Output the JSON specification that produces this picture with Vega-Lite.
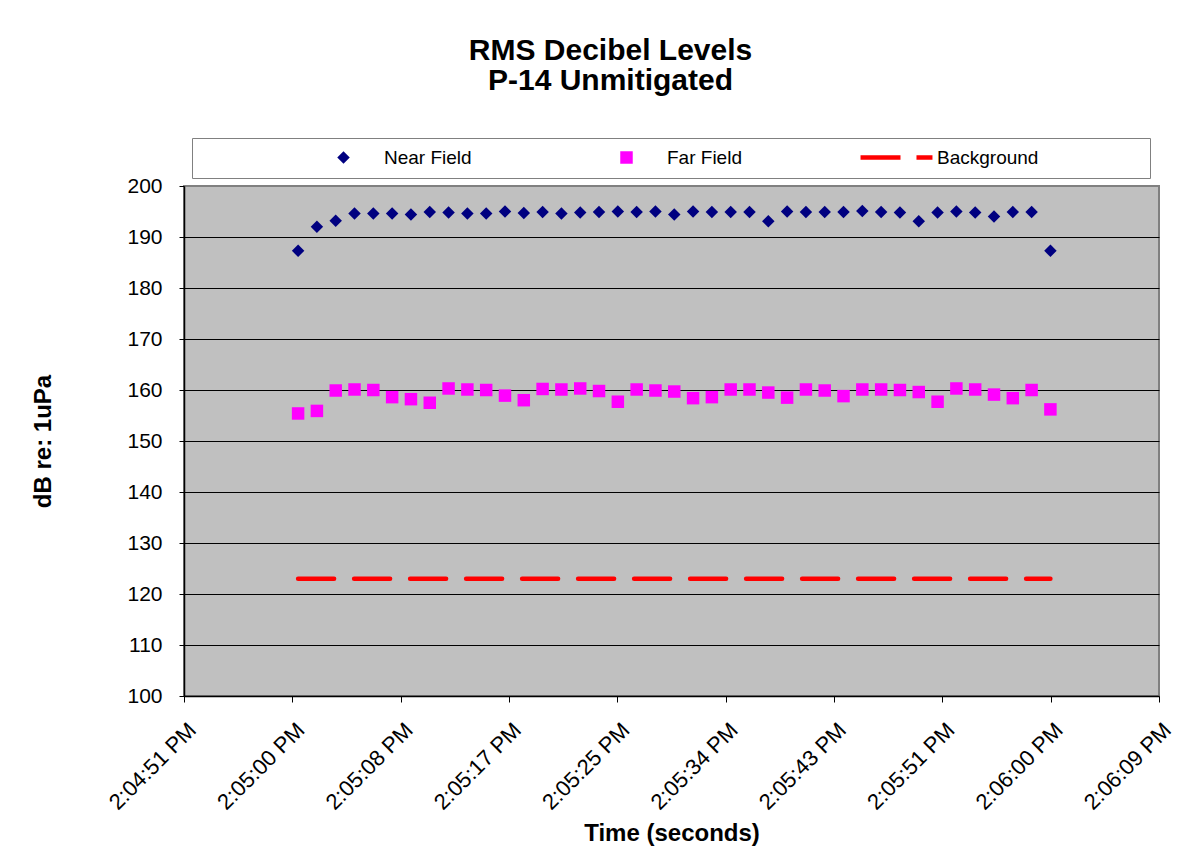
{
  "$schema": "https://vega.github.io/schema/vega-lite/v6.json",
  "width": 975,
  "height": 510,
  "autosize": "none",
  "padding": {"left": 184, "top": 186, "right": 40, "bottom": 169},
  "background": "white",
  "config": {
    "font": "Liberation Sans",
    "view": {"fill": "#C0C0C0", "stroke": "#808080", "strokeWidth": 2}
  },
  "title": {
    "text": ["RMS Decibel Levels", "P-14 Unmitigated"],
    "fontSize": 30,
    "fontWeight": "bold",
    "font": "Liberation Sans",
    "color": "black",
    "lineHeight": 30,
    "anchor": "middle",
    "dx": -61,
    "offset": 42
  },
  "data": {
    "values": [
      {"time": "2000-01-01T14:05:00.500Z", "Near Field": 187.3, "Far Field": 155.4, "Background": 123},
      {"time": "2000-01-01T14:05:02.000Z", "Near Field": 192.0, "Far Field": 155.9, "Background": 123},
      {"time": "2000-01-01T14:05:03.500Z", "Near Field": 193.2, "Far Field": 159.9, "Background": 123},
      {"time": "2000-01-01T14:05:05.000Z", "Near Field": 194.6, "Far Field": 160.1, "Background": 123},
      {"time": "2000-01-01T14:05:06.500Z", "Near Field": 194.6, "Far Field": 160.0, "Background": 123},
      {"time": "2000-01-01T14:05:08.000Z", "Near Field": 194.6, "Far Field": 158.6, "Background": 123},
      {"time": "2000-01-01T14:05:09.500Z", "Near Field": 194.4, "Far Field": 158.2, "Background": 123},
      {"time": "2000-01-01T14:05:11.000Z", "Near Field": 194.9, "Far Field": 157.5, "Background": 123},
      {"time": "2000-01-01T14:05:12.500Z", "Near Field": 194.8, "Far Field": 160.3, "Background": 123},
      {"time": "2000-01-01T14:05:14.000Z", "Near Field": 194.6, "Far Field": 160.1, "Background": 123},
      {"time": "2000-01-01T14:05:15.500Z", "Near Field": 194.6, "Far Field": 160.0, "Background": 123},
      {"time": "2000-01-01T14:05:17.000Z", "Near Field": 195.0, "Far Field": 158.9, "Background": 123},
      {"time": "2000-01-01T14:05:18.500Z", "Near Field": 194.7, "Far Field": 158.0, "Background": 123},
      {"time": "2000-01-01T14:05:20.000Z", "Near Field": 194.9, "Far Field": 160.2, "Background": 123},
      {"time": "2000-01-01T14:05:21.500Z", "Near Field": 194.6, "Far Field": 160.1, "Background": 123},
      {"time": "2000-01-01T14:05:23.000Z", "Near Field": 194.8, "Far Field": 160.3, "Background": 123},
      {"time": "2000-01-01T14:05:24.500Z", "Near Field": 194.9, "Far Field": 159.8, "Background": 123},
      {"time": "2000-01-01T14:05:26.000Z", "Near Field": 195.0, "Far Field": 157.7, "Background": 123},
      {"time": "2000-01-01T14:05:27.500Z", "Near Field": 194.9, "Far Field": 160.1, "Background": 123},
      {"time": "2000-01-01T14:05:29.000Z", "Near Field": 195.0, "Far Field": 159.9, "Background": 123},
      {"time": "2000-01-01T14:05:30.500Z", "Near Field": 194.4, "Far Field": 159.7, "Background": 123},
      {"time": "2000-01-01T14:05:32.000Z", "Near Field": 195.0, "Far Field": 158.4, "Background": 123},
      {"time": "2000-01-01T14:05:33.500Z", "Near Field": 194.9, "Far Field": 158.6, "Background": 123},
      {"time": "2000-01-01T14:05:35.000Z", "Near Field": 194.9, "Far Field": 160.1, "Background": 123},
      {"time": "2000-01-01T14:05:36.500Z", "Near Field": 194.9, "Far Field": 160.1, "Background": 123},
      {"time": "2000-01-01T14:05:38.000Z", "Near Field": 193.1, "Far Field": 159.5, "Background": 123},
      {"time": "2000-01-01T14:05:39.500Z", "Near Field": 195.0, "Far Field": 158.5, "Background": 123},
      {"time": "2000-01-01T14:05:41.000Z", "Near Field": 194.9, "Far Field": 160.1, "Background": 123},
      {"time": "2000-01-01T14:05:42.500Z", "Near Field": 194.9, "Far Field": 159.9, "Background": 123},
      {"time": "2000-01-01T14:05:44.000Z", "Near Field": 194.9, "Far Field": 158.8, "Background": 123},
      {"time": "2000-01-01T14:05:45.500Z", "Near Field": 195.1, "Far Field": 160.1, "Background": 123},
      {"time": "2000-01-01T14:05:47.000Z", "Near Field": 194.9, "Far Field": 160.1, "Background": 123},
      {"time": "2000-01-01T14:05:48.500Z", "Near Field": 194.8, "Far Field": 160.0, "Background": 123},
      {"time": "2000-01-01T14:05:50.000Z", "Near Field": 193.1, "Far Field": 159.6, "Background": 123},
      {"time": "2000-01-01T14:05:51.500Z", "Near Field": 194.8, "Far Field": 157.7, "Background": 123},
      {"time": "2000-01-01T14:05:53.000Z", "Near Field": 195.0, "Far Field": 160.3, "Background": 123},
      {"time": "2000-01-01T14:05:54.500Z", "Near Field": 194.8, "Far Field": 160.1, "Background": 123},
      {"time": "2000-01-01T14:05:56.000Z", "Near Field": 194.0, "Far Field": 159.1, "Background": 123},
      {"time": "2000-01-01T14:05:57.500Z", "Near Field": 194.9, "Far Field": 158.4, "Background": 123},
      {"time": "2000-01-01T14:05:59.000Z", "Near Field": 194.9, "Far Field": 160.0, "Background": 123},
      {"time": "2000-01-01T14:06:00.500Z", "Near Field": 187.3, "Far Field": 156.2, "Background": 123}
    ]
  },
  "encoding": {
    "x": {
      "field": "time",
      "type": "temporal",
      "scale": {
        "type": "utc",
        "nice": false,
        "domain": [
          {"year": 2000, "month": 1, "date": 1, "hours": 14, "minutes": 4, "seconds": 51, "milliseconds": 400, "utc": true},
          {"year": 2000, "month": 1, "date": 1, "hours": 14, "minutes": 6, "seconds": 9, "milliseconds": 160, "utc": true}
        ]
      },
      "axis": {
        "title": "Time (seconds)",
        "values": [
          {"year": 2000, "month": 1, "date": 1, "hours": 14, "minutes": 4, "seconds": 51, "milliseconds": 400, "utc": true},
          {"year": 2000, "month": 1, "date": 1, "hours": 14, "minutes": 5, "seconds": 0, "milliseconds": 40, "utc": true},
          {"year": 2000, "month": 1, "date": 1, "hours": 14, "minutes": 5, "seconds": 8, "milliseconds": 680, "utc": true},
          {"year": 2000, "month": 1, "date": 1, "hours": 14, "minutes": 5, "seconds": 17, "milliseconds": 320, "utc": true},
          {"year": 2000, "month": 1, "date": 1, "hours": 14, "minutes": 5, "seconds": 25, "milliseconds": 960, "utc": true},
          {"year": 2000, "month": 1, "date": 1, "hours": 14, "minutes": 5, "seconds": 34, "milliseconds": 600, "utc": true},
          {"year": 2000, "month": 1, "date": 1, "hours": 14, "minutes": 5, "seconds": 43, "milliseconds": 240, "utc": true},
          {"year": 2000, "month": 1, "date": 1, "hours": 14, "minutes": 5, "seconds": 51, "milliseconds": 880, "utc": true},
          {"year": 2000, "month": 1, "date": 1, "hours": 14, "minutes": 6, "seconds": 0, "milliseconds": 520, "utc": true},
          {"year": 2000, "month": 1, "date": 1, "hours": 14, "minutes": 6, "seconds": 9, "milliseconds": 160, "utc": true}
        ],
        "labelExpr": "utcFormat(datum.value, '%-I:%M:%S %p')",
        "labelAngle": -45,
        "labelAlign": "right",
        "labelBaseline": "top",
        "labelFontSize": 22,
        "labelColor": "black",
        "labelPadding": 17,
        "labelOffset": 1,
        "labelOverlap": false,
        "labelFlush": false,
        "grid": false,
        "tickSize": 6,
        "tickColor": "black",
        "domainColor": "black",
        "domainWidth": 1.5,
        "titleFontSize": 24,
        "titleFontWeight": "bold",
        "titleColor": "black",
        "titlePadding": 8
      }
    },
    "y": {
      "type": "quantitative",
      "scale": {"domain": [100, 200], "nice": false, "zero": false},
      "axis": {
        "title": "dB re: 1uPa",
        "values": [100, 110, 120, 130, 140, 150, 160, 170, 180, 190, 200],
        "labelFontSize": 21,
        "labelColor": "black",
        "labelPadding": 17,
        "tickSize": 5,
        "tickColor": "black",
        "domainColor": "black",
        "domainWidth": 1.5,
        "grid": true,
        "gridColor": {"condition": {"test": "datum.value == 200 || datum.value == 100", "value": "transparent"}, "value": "black"},
        "gridWidth": 1,
        "gridOpacity": 1,
        "titleFontSize": 24,
        "titleFontWeight": "bold",
        "titleColor": "black",
        "titlePadding": 71
      }
    }
  },
  "layer": [
    {
      "mark": {"type": "line", "color": "#FF0000", "strokeWidth": 4.5, "strokeDash": [36, 20], "strokeCap": "round", "clip": false},
      "encoding": {"y": {"field": "Background", "type": "quantitative"}}
    },
    {
      "transform": [{"fold": ["Near Field", "Far Field"], "as": ["series", "value"]}],
      "mark": {"type": "point", "filled": true, "opacity": 1, "size": 156, "strokeWidth": 0},
      "encoding": {
        "y": {"field": "value", "type": "quantitative"},
        "color": {
          "field": "series",
          "type": "nominal",
          "scale": {"domain": ["Near Field", "Far Field", "Background"], "range": ["#000080", "#FF00FF", "#FF0000"]},
          "legend": {
            "title": null,
            "orient": "none",
            "legendX": 8,
            "legendY": -48,
            "direction": "horizontal",
            "columns": 3,
            "gridAlign": "none",
            "columnPadding": 13,
            "padding": 10,
            "strokeColor": "#808080",
            "fillColor": "white",
            "symbolSize": 156,
            "symbolStrokeWidth": 0,
            "symbolOpacity": 1,
            "symbolOffset": 132,
            "labelFontSize": 19,
            "labelColor": "black",
            "labelOffset": 31,
            "labelLimit": 300
          }
        },
        "shape": {
          "field": "series",
          "type": "nominal",
          "scale": {
            "domain": ["Near Field", "Far Field", "Background"],
            "range": [
              "diamond",
              "square",
              "M-5.76,-0.38H0.64V0.38H-5.76ZM3.2,-0.38H5.76V0.38H3.2ZM38.9,0"
            ]
          }
        }
      }
    }
  ]
}
